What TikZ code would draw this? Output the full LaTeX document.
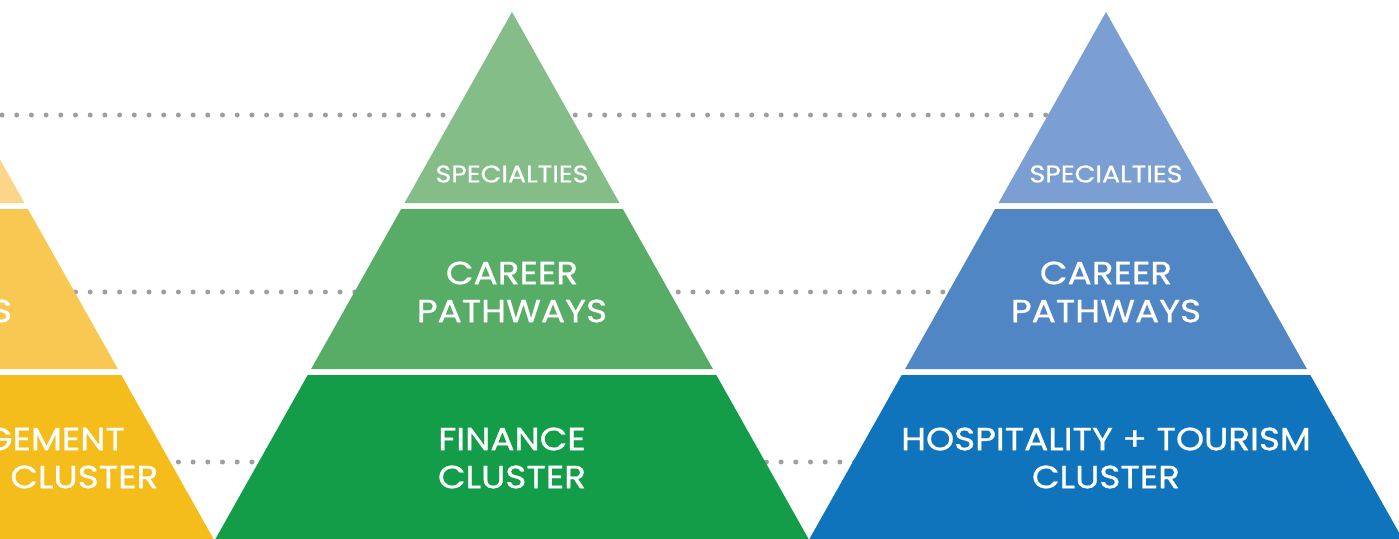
\documentclass[tikz,border=0pt]{standalone}
\usepackage{fontspec}
\setmainfont{Poppins}[FakeStretch=1.12, FakeBold=0.8]
\usepackage{tikz}

\definecolor{yelTop}{HTML}{FBD589}
\definecolor{yelMid}{HTML}{F8C852}
\definecolor{yelBot}{HTML}{F5BD1B}
\definecolor{grnTop}{HTML}{85BD89}
\definecolor{grnMid}{HTML}{58AD66}
\definecolor{grnBot}{HTML}{149D48}
\definecolor{bluTop}{HTML}{7B9ED3}
\definecolor{bluMid}{HTML}{5186C5}
\definecolor{bluBot}{HTML}{0F74BB}
\definecolor{dotgray}{HTML}{9D9DA3}

\tikzset{
  level/.style={draw=none, text=white, align=center, inner sep=0pt},
  small/.style={level, font=\fontsize{24}{28}\selectfont},
  big/.style={level, font=\fontsize{32}{38}\selectfont},
  dotline/.style={dotgray, line width=5pt, line cap=round, dash pattern=on 0pt off 14.7pt}
}

\begin{document}
\begin{tikzpicture}[x=1pt, y=-1pt]
  \useasboundingbox (0,0) rectangle (1399,538);
  \clip (0,0) rectangle (1399,538);

  % dotted guides behind the pyramids
  \coordinate (l1) at (2,115);   \coordinate (r1) at (1060,115);
  \coordinate (l2) at (2,292);   \coordinate (r2) at (960,292);
  \coordinate (l3) at (2,462);   \coordinate (r3) at (860,462);
  \draw[dotline] (l1) -- (r1);
  \draw[dotline] (l2) -- (r2);
  \draw[dotline] (l3) -- (r3);

  % three pyramids, cut into bands
  \def\s{0.5628}
  \foreach \cx/\ca/\cb/\cc in {-83/yelTop/yelMid/yelBot, 512/grnTop/grnMid/grnBot, 1106/bluTop/bluMid/bluBot} {
    \fill[\ca] (\cx,12) -- ({\cx+\s*191},203) -- ({\cx-\s*191},203) -- cycle;
    \fill[\cb] ({\cx-\s*197},209) -- ({\cx+\s*197},209) -- ({\cx+\s*357},369) -- ({\cx-\s*357},369) -- cycle;
    \fill[\cc] ({\cx-\s*363},375) -- ({\cx+\s*363},375) -- ({\cx+\s*530},542) -- ({\cx-\s*530},542) -- cycle;
  }

  % labels
  \node[big] (path1) at (-83,292) {CAREER\\PATHWAYS};
  \node[big] (clus1) at (-83,458) {BUSINESS MANAGEMENT\\+ ADMINISTRATION CLUSTER};

  \node[small] (spec2) at (512,174) {SPECIALTIES};
  \node[big] (path2) at (512,292) {CAREER\\PATHWAYS};
  \node[big] (clus2) at (512,458) {FINANCE\\CLUSTER};

  \node[small] (spec3) at (1106,174) {SPECIALTIES};
  \node[big] (path3) at (1106,292) {CAREER\\PATHWAYS};
  \node[big] (clus3) at (1106,458) {HOSPITALITY + TOURISM\\CLUSTER};
\end{tikzpicture}
\end{document}
